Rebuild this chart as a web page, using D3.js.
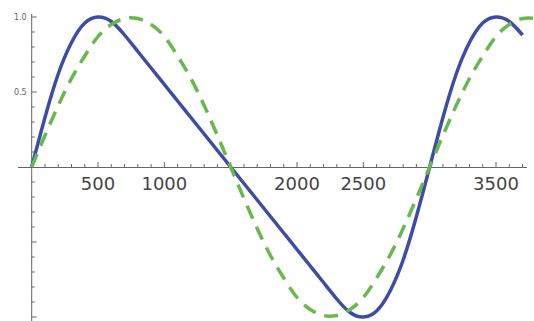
<!DOCTYPE html>
<meta charset="utf-8">
<script src="https://cdn.jsdelivr.net/npm/d3@7"></script>
<style>
body{margin:0;background:#fff;}
svg{display:block;}
</style>
<body>
<div id="plot"></div>
<script>
// sample positions (x) and the two curves
var blueX=[0,100,200,300,400,500,600,700,800,900,1000,1100,1200,1300,1400,1500,1600,1700,1800,1900,
           2000,2100,2200,2300,2400,2500,2600,2700,2800,2900,3000,3100,3200,3300,3400,3500,3600,3700];
var blueY=[0,0.33,0.62,0.83,0.96,1.00,0.97,0.88,0.77,0.66,0.55,0.44,0.33,0.22,0.11,0,-0.11,-0.22,-0.33,-0.44,
           -0.55,-0.66,-0.77,-0.88,-0.97,-1.00,-0.96,-0.83,-0.62,-0.33,0,0.33,0.62,0.83,0.96,1.00,0.97,0.88];

var greenX=[0,100,200,300,400,500,600,700,800,900,1000,1100,1200,1300,1400,1500,1600,1700,1800,1900,
            2000,2100,2200,2300,2400,2500,2600,2700,2800,2900,3000,3100,3200,3300,3400,3500,3600,3700,3800];
var greenY=[0,0.21,0.41,0.59,0.74,0.87,0.95,0.99,0.99,0.95,0.87,0.74,0.59,0.41,0.21,0,-0.21,-0.41,-0.59,-0.74,
            -0.87,-0.95,-0.99,-0.99,-0.95,-0.87,-0.74,-0.59,-0.41,-0.21,0,0.21,0.41,0.59,0.74,0.87,0.95,0.99,0.99];

var xLabels=[500,1000,2000,2500,3500];
var yLabels=[0.5,1.0];

var W=534,H=321;
var x=d3.scaleLinear().domain([0,3500]).range([31.7,496]);
var y=d3.scaleLinear().domain([-1,1]).range([317,17]);

var svg=d3.select("#plot").append("svg").attr("width",W).attr("height",H);

// axes
var ax=svg.append("g").attr("stroke","#666").attr("stroke-width",1);
ax.append("line").attr("x1",18).attr("x2",527).attr("y1",y(0)+0.5).attr("y2",y(0)+0.5);
ax.append("line").attr("x1",x(0)).attr("x2",x(0)).attr("y1",14).attr("y2",H);

// x ticks (minor every 100, major every 500), pointing up
var xt=d3.range(0,3800,100).filter(function(d){return d>0;});
ax.selectAll(".xt").data(xt).enter().append("line")
  .attr("x1",function(d){return x(d);}).attr("x2",function(d){return x(d);})
  .attr("y1",y(0))
  .attr("y2",function(d){return y(0)-(d%500==0?5:3);});

// y ticks, pointing right
var yt=d3.range(-10,11).map(function(d){return d/10;}).filter(function(d){return d!=0;});
ax.selectAll(".yt").data(yt).enter().append("line")
  .attr("y1",function(d){return y(d);}).attr("y2",function(d){return y(d);})
  .attr("x1",x(0))
  .attr("x2",function(d){return x(0)+(Math.abs(d*10)%5==0?5:3);});

svg.selectAll(".xl").data(xLabels).enter().append("text")
  .attr("x",function(d){return x(d);})
  .attr("y",y(0)+23)
  .attr("text-anchor","middle")
  .style("font-family","DejaVu Sans")
  .style("font-size","18px")
  .style("fill","#444")
  .text(function(d){return d;});

svg.selectAll(".yl").data(yLabels).enter().append("text")
  .attr("x",x(0)-5)
  .attr("y",function(d){return y(d)+3;})
  .attr("text-anchor","end")
  .style("font-family","DejaVu Sans")
  .style("font-size","8px")
  .style("fill","#666")
  .text(function(d){return d.toFixed(1);});

var line=d3.line().curve(d3.curveNatural);

svg.append("path")
  .attr("d",line(blueX.map(function(d,i){return [x(d),y(blueY[i])];})))
  .attr("fill","none")
  .attr("stroke","#3d4ca6")
  .attr("stroke-width",3.5);

svg.append("path")
  .attr("d",line(greenX.map(function(d,i){return [x(d),y(greenY[i])];})))
  .attr("fill","none")
  .attr("stroke","#68b84e")
  .attr("stroke-width",3.5)
  .attr("stroke-dasharray","14,9");
</script>
</body>
